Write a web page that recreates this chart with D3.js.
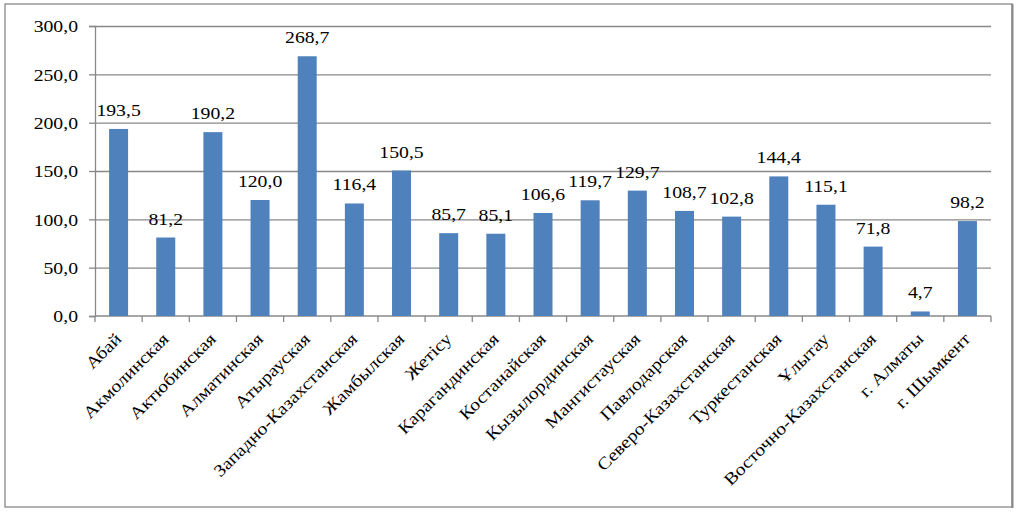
<!DOCTYPE html>
<html>
<head>
<meta charset="utf-8">
<script src="https://cdn.jsdelivr.net/npm/d3@7"></script>
<style>
  body { margin: 0; background: #fff; }
  svg text { font-family: "Liberation Serif", "Times New Roman", Times, serif; fill: #000; }
</style>
</head>
<body>
<div id="chart"></div>
<script>
const regions = ['Абай', 'Акмолинская', 'Актюбинская', 'Алматинская', 'Атырауская',
  'Западно-Казахстанская', 'Жамбылская', 'Жетiсу', 'Карагандинская', 'Костанайская',
  'Кызылординская', 'Мангистауская', 'Павлодарская', 'Северо-Казахстанская',
  'Туркестанская', 'Ұлытау', 'Восточно-Казахстанская', 'г. Алматы', 'г. Шымкент'];
const values = [193.5, 81.2, 190.2, 120.0, 268.7, 116.4, 150.5, 85.7, 85.1, 106.6,
  119.7, 129.7, 108.7, 102.8, 144.4, 115.1, 71.8, 4.7, 98.2];
const yTicks = [0, 50, 100, 150, 200, 250, 300];

const W = 1022, H = 513;
const margin = {top: 26, right: 31, bottom: 197, left: 95};
const w = W - margin.left - margin.right;
const h = H - margin.top - margin.bottom;
const fmt = v => v.toFixed(1).replace('.', ',');
const FONT = '"Liberation Serif", "Times New Roman", serif';
const SX = 1.16; // the source font renders a bit wide

const svg = d3.select('#chart').append('svg')
  .attr('width', W).attr('height', H);

// outer frame
svg.append('rect')
  .attr('x', 5).attr('y', 4).attr('width', 1007).attr('height', 503)
  .attr('fill', 'none').attr('stroke', '#888').attr('stroke-width', 1.3);
svg.append('line')
  .attr('x1', 1012.5).attr('x2', 1012.5).attr('y1', 4).attr('y2', 508)
  .attr('stroke', '#888').attr('stroke-width', 2);

const g = svg.append('g').attr('transform', `translate(${margin.left},${margin.top})`);

const xb = d3.scaleBand().domain(regions).range([0, w]);
const y = d3.scaleLinear().domain([0, 300]).range([h, 0]);

// grid + y axis
const yAxis = g.append('g').call(d3.axisLeft(y).tickValues(yTicks).tickSize(6).tickFormat(fmt));
yAxis.attr('font-family', FONT).attr('font-size', 17);
yAxis.select('.domain').attr('stroke', '#888').attr('stroke-width', 1.3);
yAxis.selectAll('.tick line').attr('stroke', '#888').attr('stroke-width', 1.3);
yAxis.selectAll('.tick text')
  .attr('x', null).attr('dy', '0.34em')
  .attr('transform', `translate(-17,0) scale(${SX},1)`);
yAxis.selectAll('.tick').filter(d => d > 0).append('line')
  .attr('x2', w).attr('stroke', '#888').attr('stroke-width', 1.3);

// x axis
const xAxisG = g.append('g').attr('transform', `translate(0,${h})`)
  .attr('font-family', FONT).attr('font-size', 17);
xAxisG.append('line').attr('x2', w).attr('stroke', '#888').attr('stroke-width', 1.3);
xAxisG.selectAll('.xt').data(regions.concat(['end'])).join('line')
  .attr('x1', (d, i) => i * xb.bandwidth()).attr('x2', (d, i) => i * xb.bandwidth())
  .attr('y2', 6).attr('stroke', '#888').attr('stroke-width', 1.3);

xAxisG.selectAll('.xl').data(regions).join('text')
  .attr('transform', d => `translate(${xb(d) + xb.bandwidth() / 2 + 4},${24}) rotate(-45) scale(${SX},1)`)
  .attr('text-anchor', 'end')
  .text(d => d);

// bars
g.selectAll('.bar').data(values).join('rect')
  .attr('x', (d, i) => xb(regions[i]) + xb.bandwidth() / 2 - 9.5)
  .attr('width', 19)
  .attr('y', d => y(d))
  .attr('height', d => h - y(d))
  .attr('fill', '#4F81BD');

// value labels
g.selectAll('.val').data(values).join('text')
  .attr('transform', (d, i) => `translate(${xb(regions[i]) + xb.bandwidth() / 2},${y(d) - 13}) scale(${SX},1)`)
  .attr('text-anchor', 'middle')
  .attr('font-family', FONT)
  .attr('font-size', 17)
  .text(fmt);
</script>
</body>
</html>
